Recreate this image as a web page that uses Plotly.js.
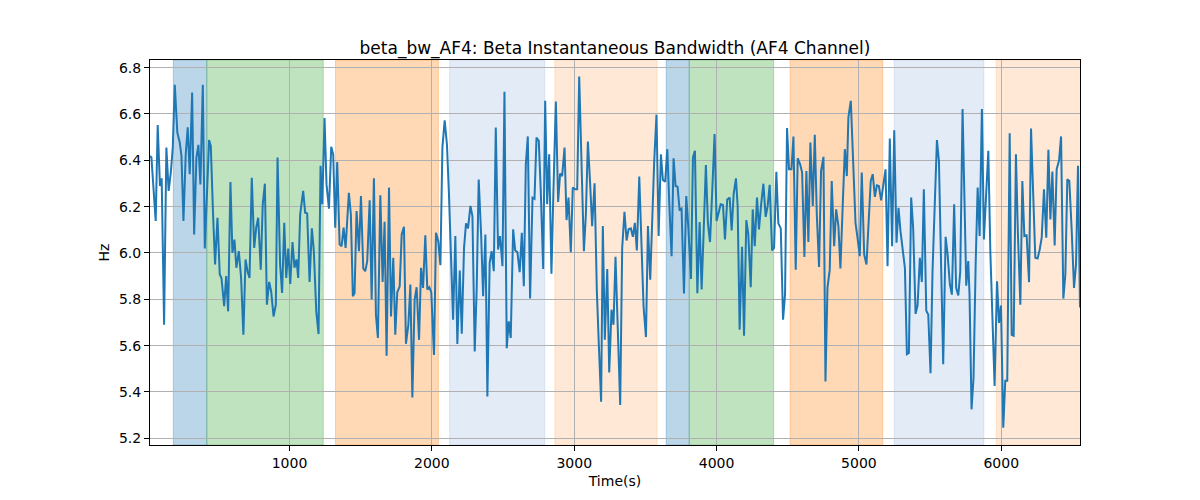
<!DOCTYPE html>
<html>
<head>
<meta charset="utf-8">
<script src="https://cdn.plot.ly/plotly-3.0.1.min.js"></script>
<style>
  html, body { margin: 0; padding: 0; background: #fff; }
  #chart { width: 1200px; height: 500px; }
</style>
</head>
<body>
<div id="chart"></div>
<script>
// time (s) and beta bandwidth (Hz)
let times = [
  20,30,60,74,90,102,119,135,151,166,180,194,212,229,241,255,271,285,299,316,330,346,360,374,391,405,435,447,463,477,
  494,510,522,541,555,569,585,599,613,627,644,660,676,691,705,719,735,752,766,780,798,812,827,
  841,857,871,888,904,916,934,948,963,977,991,1005,1021,1035,1049,1061,1075,1096,1110,1124,1141,1157,1171,1188,1204,1218,
  1230,1246,1260,1277,1293,1307,1321,1335,1352,1366,1380,1394,1417,1431,1445,1457,1471,1488,1502,1518,1532,1546,1563,1577,
  1593,1607,1621,1638,
  1654,1668,1682,1699,1713,1729,1743,1757,1774,1788,1804,1818,1835,1849,1863,1879,1893,1910,1924,1938,1954,1968,1982,1996,
  2015,2029,2045,2060,2074,2090,2106,2120,2135,2149,2165,2179,2196,2210,2226,2240,2254,2271,2285,2301,2315,2329,2346,2360,
  2376,2390,2406,2420,2435,2449,
  2465,2479,2496,2510,2526,2540,2554,2571,2585,2601,2617,2632,2646,2660,2674,2690,2707,2721,2735,2751,2765,2782,2796,2810,
  2824,2840,2854,2871,2887,2901,2915,2932,2946,2960,2976,2990,3007,3021,3035,3051,3068,3082,3096,3112,3126,3143,3159,3173,
  3189,3201,3215,3232,3246,3262,
  3276,3290,3307,3323,3337,3353,3368,3382,3398,3412,3426,3440,3457,3473,3487,3504,3518,3534,3548,3562,3578,3593,3609,3623,
  3639,3654,3668,3684,3698,3712,3726,3740,3754,3771,3787,3801,3820,3834,3848,3865,3881,3895,3909,3925,3939,3954,3970,3986,
  4000,4015,4029,4045,4059,4075,
  4092,4106,4120,4136,4148,4162,4179,4193,4209,4223,4240,4254,4268,4284,4298,4312,4329,4345,4359,4373,4390,4404,4420,4434,
  4451,4467,4481,4495,4509,4526,4540,4556,4570,4587,4601,4617,4631,4645,4659,4676,4690,4704,4720,4734,4751,4765,4779,4795,
  4809,4826,4840,4856,4870,4886,4901,
  4915,4926,4943,4959,4976,4990,5006,5020,5037,5053,5067,5083,5097,5112,5126,5140,5156,5170,5187,5201,5217,5233,5248,5264,
  5278,5292,5306,5323,5337,5351,5367,5381,5398,5412,5428,5442,5456,5473,5487,5503,5517,5531,5548,5562,5578,5592,5609,5623,
  5639,5653,5669,5683,5698,5712,
  5728,5742,5754,5768,5777,5791,5805,5820,5834,5848,5864,5878,5895,5909,5923,5939,5953,5970,5984,5998,6014,6028,6042,6059,
  6073,6087,6103,6117,6134,6148,6162,6178,6195,6209,6225,6239,6255,6270,6284,6300,6316,6331,6345,6359,6375,6389,6406,6420,
  6436,6450,6464,6478,6495,6511,6525,6539,6553
];

let bandwidth = [
  6.419,6.412,6.138,6.552,6.289,6.322,5.690,6.455,6.268,6.347,6.455,6.726,6.520,6.477,6.419,6.138,6.426,6.542,6.340,6.693,
  6.080,6.412,6.467,6.296,6.726,6.019,6.487,6.462,6.167,5.950,6.152,5.907,5.892,5.770,5.900,5.748,6.306,6.001,6.058,5.936,
  6.008,5.892,5.647,5.972,5.921,5.892,6.325,6.022,6.109,6.152,5.928,6.210,6.299,
  5.777,5.875,5.835,5.726,5.777,6.412,5.950,5.827,6.130,5.892,6.019,5.866,6.047,5.936,5.972,5.892,6.167,6.268,6.174,6.171,
  5.875,6.106,6.008,5.748,5.650,6.376,6.210,6.582,6.296,6.191,6.458,6.426,6.109,6.393,6.037,6.029,6.109,6.022,6.260,6.167,
  5.813,5.827,6.181,6.008,6.246,5.933,5.921,5.965,6.227,5.799,6.322,5.734,5.633,6.249,
  5.875,6.135,5.556,6.282,5.726,5.979,5.647,5.830,5.856,6.080,6.113,5.608,5.690,5.864,5.376,5.799,5.852,5.625,5.936,5.849,
  6.076,5.842,5.852,5.830,5.560,6.087,6.051,5.947,6.455,6.573,6.467,6.256,5.979,5.712,6.073,5.607,5.924,5.651,6.022,6.128,
  6.106,6.203,6.159,5.575,5.849,6.317,6.080,5.813,6.080,5.380,5.957,6.008,5.921,6.542,
  6.015,6.073,5.943,6.696,5.589,5.705,5.633,6.102,6.012,6.003,5.917,6.087,5.856,6.383,6.503,5.803,6.239,6.234,6.498,6.484,
  6.268,5.931,6.657,6.210,6.426,5.910,6.268,6.654,6.220,6.343,6.332,6.455,6.142,6.239,6.003,6.282,6.275,6.275,6.762,6.412,
  6.008,6.167,6.481,6.296,6.116,6.301,5.835,5.604,5.358,6.116,5.625,5.931,5.484,5.755,
  5.690,5.983,5.661,5.344,6.022,6.178,6.054,6.102,6.106,6.070,6.130,6.011,6.330,6.029,5.770,5.637,6.116,5.885,6.181,6.397,
  6.597,6.073,6.426,6.315,6.308,6.448,6.210,5.986,6.409,6.289,6.286,6.188,6.192,5.825,6.246,6.116,5.888,6.412,6.441,5.826,
  6.133,5.842,6.087,6.380,6.130,6.047,6.275,6.513,6.138,6.181,6.210,6.207,6.058,6.231,
  6.239,6.097,6.253,6.322,6.203,5.669,6.027,5.643,6.142,6.080,5.852,6.188,6.029,6.239,6.102,6.203,6.299,6.156,6.203,6.294,
  6.011,6.022,6.350,6.128,6.106,5.712,5.820,6.539,6.361,6.361,6.503,5.928,6.409,6.383,6.347,5.983,6.354,6.047,6.477,6.203,
  6.510,6.167,5.940,6.354,6.415,5.445,5.849,5.928,6.311,6.029,6.188,6.116,5.933,6.203,6.448,
  6.332,6.585,6.657,6.383,6.130,6.066,5.986,6.347,5.993,5.950,6.152,6.311,6.340,6.242,6.292,6.289,6.227,6.294,6.361,5.943,
  6.494,6.029,6.530,6.044,6.195,6.094,6.008,5.936,5.563,5.568,6.239,6.109,5.737,5.774,5.979,5.875,6.275,5.751,5.734,5.481,
  5.921,6.210,6.487,6.397,5.979,5.520,6.070,5.993,5.864,5.820,6.210,5.849,5.817,5.921,
  6.621,6.224,5.859,5.965,5.820,5.325,5.459,5.950,6.282,6.073,6.621,6.058,6.296,6.441,6.008,5.647,5.426,5.878,5.698,5.773,
  5.246,5.448,5.448,6.517,5.647,5.643,6.426,6.080,5.777,6.311,6.073,6.076,5.874,6.537,6.239,5.979,5.976,6.015,6.066,6.275,
  6.066,6.445,6.145,6.351,6.032,6.361,6.400,6.503,5.803,5.907,6.318,6.311,6.094,5.849,5.950,6.376,5.765
];

// shaded segments
let bandStart = [184, 419, 1323, 2125, 2864, 3646, 3808, 4516, 5248, 5964];
let bandEnd   = [419, 1237, 2046, 2793, 3582, 3808, 4401, 5168, 5878, 6560];
let bandColor = [
  'rgba(31,119,180,0.3)', 'rgba(44,160,44,0.3)', 'rgba(255,127,14,0.3)', 'rgba(40,100,190,0.13)', 'rgba(255,127,14,0.17)',
  'rgba(31,119,180,0.3)', 'rgba(44,160,44,0.3)', 'rgba(255,127,14,0.3)', 'rgba(40,100,190,0.13)', 'rgba(255,127,14,0.17)'
];

let xTicks = [1000, 2000, 3000, 4000, 5000, 6000];
let yTicks = [5.2, 5.4, 5.6, 5.8, 6.0, 6.2, 6.4, 6.6, 6.8];

let shapes = [];
for (let i = 0; i < bandStart.length; i++) {
  shapes.push({
    type: 'rect', xref: 'x', yref: 'paper',
    x0: bandStart[i], x1: bandEnd[i], y0: 0, y1: 1,
    fillcolor: bandColor[i],
    line: {color: bandColor[i], width: 1},
    layer: 'below'
  });
}

let trace = {
  x: times,
  y: bandwidth,
  mode: 'lines',
  line: {color: '#1f77b4', width: 2},
  hoverinfo: 'x+y'
};

let axisStyle = {
  showgrid: true, gridcolor: '#b0b0b0', gridwidth: 1,
  showline: true, linecolor: 'black', linewidth: 1, mirror: true,
  ticks: 'outside', ticklen: 5, tickwidth: 1, tickcolor: 'black',
  zeroline: false,
  tickfont: {size: 14, color: 'black'}
};

let layout = {
  width: 1200,
  height: 500,
  margin: {l: 150, r: 120, t: 60, b: 55, pad: 0},
  paper_bgcolor: 'white',
  plot_bgcolor: 'white',
  font: {family: 'DejaVu Sans', size: 14, color: 'black'},
  showlegend: false,
  title: {
    text: 'beta_bw_AF4: Beta Instantaneous Bandwidth (AF4 Channel)',
    font: {size: 17, color: 'black'},
    x: 0.5, xref: 'paper', xanchor: 'center',
    y: 1, yref: 'paper', yanchor: 'bottom',
    pad: {b: 6}
  },
  xaxis: Object.assign({}, axisStyle, {
    range: [20, 6553],
    tickvals: xTicks,
    ticktext: xTicks.map(String),
    title: {text: 'Time(s)', font: {size: 14}, standoff: 6}
  }),
  yaxis: Object.assign({}, axisStyle, {
    range: [5.171, 6.833],
    tickvals: yTicks,
    tickformat: '.1f',
    title: {text: 'Hz', font: {size: 14}, standoff: 6}
  }),
  shapes: shapes
};

Plotly.newPlot('chart', [trace], layout, {displayModeBar: false, staticPlot: true});
</script>
</body>
</html>
